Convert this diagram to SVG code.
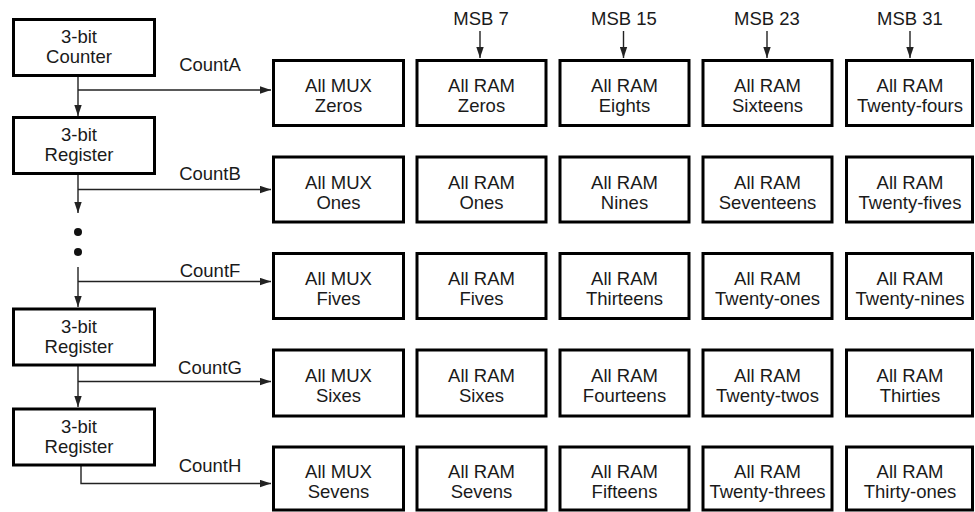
<svg xmlns="http://www.w3.org/2000/svg" width="975" height="512" viewBox="0 0 975 512">
<style>
text{font-family:"Liberation Sans",Arial,sans-serif;font-size:18.5px;fill:#1a1a1a;text-anchor:middle}
.box{fill:#fff;stroke:#000;stroke-width:3}
.ln{fill:none;stroke:#222;stroke-width:1.4}
</style>
<defs>
<marker id="ah" markerUnits="userSpaceOnUse" markerWidth="11" markerHeight="8" refX="11" refY="4" orient="auto">
<path d="M0,0.3 L11,4 L0,7.7 z" fill="#222"/>
</marker>
</defs>
<g id="connectors">
<line class="ln" x1="78" y1="76" x2="78" y2="116" marker-end="url(#ah)"/>
<line class="ln" x1="78" y1="174" x2="78" y2="213" marker-end="url(#ah)"/>
<line class="ln" x1="78" y1="267" x2="78" y2="307" marker-end="url(#ah)"/>
<line class="ln" x1="78" y1="365" x2="78" y2="407" marker-end="url(#ah)"/>
<line class="ln" x1="78" y1="90" x2="271" y2="90" marker-end="url(#ah)"/>
<line class="ln" x1="78" y1="189.5" x2="271" y2="189.5" marker-end="url(#ah)"/>
<line class="ln" x1="78" y1="281.5" x2="271" y2="281.5" marker-end="url(#ah)"/>
<line class="ln" x1="78" y1="381.5" x2="271" y2="381.5" marker-end="url(#ah)"/>
<polyline class="ln" points="81,466 81,483.5 271,483.5" marker-end="url(#ah)"/>
<line class="ln" x1="480" y1="31" x2="480" y2="58" marker-end="url(#ah)"/>
<line class="ln" x1="623.5" y1="31" x2="623.5" y2="58" marker-end="url(#ah)"/>
<line class="ln" x1="767" y1="31" x2="767" y2="58" marker-end="url(#ah)"/>
<line class="ln" x1="910" y1="31" x2="910" y2="58" marker-end="url(#ah)"/>
<circle cx="78" cy="232" r="4" fill="#111"/>
<circle cx="78" cy="252" r="4" fill="#111"/>
</g>
<g id="labels">
<text x="210" y="71">CountA</text>
<text x="210" y="180">CountB</text>
<text x="210" y="277">CountF</text>
<text x="210" y="374">CountG</text>
<text x="210" y="472">CountH</text>
<text x="481" y="25">MSB 7</text>
<text x="624" y="25">MSB 15</text>
<text x="767" y="25">MSB 23</text>
<text x="910" y="25">MSB 31</text>
</g>
<g id="counter"><rect class="box" x="13.5" y="19.5" width="141" height="56"/><text x="79" y="43">3-bit</text><text x="79" y="63">Counter</text></g>
<g id="register1"><rect class="box" x="13.5" y="117.5" width="141" height="56"/><text x="79" y="141">3-bit</text><text x="79" y="161">Register</text></g>
<g id="register2"><rect class="box" x="13.5" y="309" width="141" height="56"/><text x="79" y="333">3-bit</text><text x="79" y="353">Register</text></g>
<g id="register3"><rect class="box" x="13.5" y="409" width="141" height="56"/><text x="79" y="433">3-bit</text><text x="79" y="453">Register</text></g>

<g id="r1c1"><rect class="box" x="273.5" y="60.5" width="130" height="65"/><text x="338.5" y="92">All MUX</text><text x="338.5" y="112">Zeros</text></g>
<g id="r1c2"><rect class="box" x="417" y="60.5" width="129" height="65"/><text x="481.5" y="92">All RAM</text><text x="481.5" y="112">Zeros</text></g>
<g id="r1c3"><rect class="box" x="560" y="60.5" width="129" height="65"/><text x="624.5" y="92">All RAM</text><text x="624.5" y="112">Eights</text></g>
<g id="r1c4"><rect class="box" x="703" y="60.5" width="129" height="65"/><text x="767.5" y="92">All RAM</text><text x="767.5" y="112">Sixteens</text></g>
<g id="r1c5"><rect class="box" x="846.5" y="60.5" width="126" height="65"/><text x="910" y="92">All RAM</text><text x="910" y="112">Twenty-fours</text></g>

<g id="r2c1"><rect class="box" x="273.5" y="157" width="130" height="65"/><text x="338.5" y="188.5">All MUX</text><text x="338.5" y="208.5">Ones</text></g>
<g id="r2c2"><rect class="box" x="417" y="157" width="129" height="65"/><text x="481.5" y="188.5">All RAM</text><text x="481.5" y="208.5">Ones</text></g>
<g id="r2c3"><rect class="box" x="560" y="157" width="129" height="65"/><text x="624.5" y="188.5">All RAM</text><text x="624.5" y="208.5">Nines</text></g>
<g id="r2c4"><rect class="box" x="703" y="157" width="129" height="65"/><text x="767.5" y="188.5">All RAM</text><text x="767.5" y="208.5">Seventeens</text></g>
<g id="r2c5"><rect class="box" x="846.5" y="157" width="126" height="65"/><text x="910" y="188.5">All RAM</text><text x="910" y="208.5">Twenty-fives</text></g>

<g id="r3c1"><rect class="box" x="273.5" y="253.5" width="130" height="65"/><text x="338.5" y="285">All MUX</text><text x="338.5" y="305">Fives</text></g>
<g id="r3c2"><rect class="box" x="417" y="253.5" width="129" height="65"/><text x="481.5" y="285">All RAM</text><text x="481.5" y="305">Fives</text></g>
<g id="r3c3"><rect class="box" x="560" y="253.5" width="129" height="65"/><text x="624.5" y="285">All RAM</text><text x="624.5" y="305">Thirteens</text></g>
<g id="r3c4"><rect class="box" x="703" y="253.5" width="129" height="65"/><text x="767.5" y="285">All RAM</text><text x="767.5" y="305">Twenty-ones</text></g>
<g id="r3c5"><rect class="box" x="846.5" y="253.5" width="126" height="65"/><text x="910" y="285">All RAM</text><text x="910" y="305">Twenty-nines</text></g>

<g id="r4c1"><rect class="box" x="273.5" y="350" width="130" height="66"/><text x="338.5" y="382">All MUX</text><text x="338.5" y="402">Sixes</text></g>
<g id="r4c2"><rect class="box" x="417" y="350" width="129" height="66"/><text x="481.5" y="382">All RAM</text><text x="481.5" y="402">Sixes</text></g>
<g id="r4c3"><rect class="box" x="560" y="350" width="129" height="66"/><text x="624.5" y="382">All RAM</text><text x="624.5" y="402">Fourteens</text></g>
<g id="r4c4"><rect class="box" x="703" y="350" width="129" height="66"/><text x="767.5" y="382">All RAM</text><text x="767.5" y="402">Twenty-twos</text></g>
<g id="r4c5"><rect class="box" x="846.5" y="350" width="126" height="66"/><text x="910" y="382">All RAM</text><text x="910" y="402">Thirties</text></g>

<g id="r5c1"><rect class="box" x="273.5" y="447" width="130" height="63"/><text x="338.5" y="478">All MUX</text><text x="338.5" y="498">Sevens</text></g>
<g id="r5c2"><rect class="box" x="417" y="447" width="129" height="63"/><text x="481.5" y="478">All RAM</text><text x="481.5" y="498">Sevens</text></g>
<g id="r5c3"><rect class="box" x="560" y="447" width="129" height="63"/><text x="624.5" y="478">All RAM</text><text x="624.5" y="498">Fifteens</text></g>
<g id="r5c4"><rect class="box" x="703" y="447" width="129" height="63"/><text x="767.5" y="478">All RAM</text><text x="767.5" y="498">Twenty-threes</text></g>
<g id="r5c5"><rect class="box" x="846.5" y="447" width="126" height="63"/><text x="910" y="478">All RAM</text><text x="910" y="498">Thirty-ones</text></g>
</svg>
